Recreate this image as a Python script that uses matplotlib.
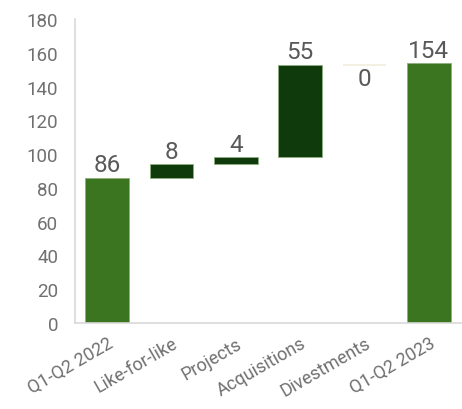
import matplotlib
matplotlib.use("Agg")
import matplotlib.pyplot as plt
import numpy as np

categories = ["Q1-Q2 2022", "Like-for-like", "Projects", "Acquisitions", "Divestments", "Q1-Q2 2023"]
values = [86, 8, 4, 55, 0, 154]
kinds = ["total", "delta", "delta", "delta", "delta", "total"]
y_ticks = [0, 20, 40, 60, 80, 100, 120, 140, 160, 180]

total_color = "#3B7520"
delta_color = "#0F3A0C"
zero_color = "#F1EDDD"
text_color = "#595959"
tick_color = "#707070"
axis_color = "#D9D9D9"

plt.rcParams["font.family"] = ["Roboto", "DejaVu Sans"]

fig = plt.figure(figsize=(4.62, 4.10), dpi=100)
ax = fig.add_axes([0.162, 0.21, 0.836, 0.741])

x = np.arange(len(categories))
width = 0.68
running = 0
for i, (v, k) in enumerate(zip(values, kinds)):
    if k == "total":
        bottom, height = 0, v
        running = v
        color = total_color
    else:
        bottom, height = running, v
        running += v
        color = delta_color
    if height == 0:
        ax.plot([x[i] - width / 2, x[i] + width / 2], [bottom, bottom],
                color=zero_color, lw=1.2, solid_capstyle="butt")
        ax.annotate(f"{v}", (x[i], bottom), xytext=(0, -2), textcoords="offset points",
                    ha="center", va="top", fontsize=17.5, color=text_color)
    else:
        ax.bar(x[i], height, bottom=bottom, width=width, color=color,
               edgecolor="#8FAF80", linewidth=0.6)
        ax.annotate(f"{v}", (x[i], bottom + height), xytext=(0, 1), textcoords="offset points",
                    ha="center", va="bottom", fontsize=17.5, color=text_color)

ax.set_xlim(-0.5, len(categories) - 0.5)
ax.set_ylim(0, 180)
ax.set_yticks(y_ticks)
ax.set_xticks(x)
ax.set_xticklabels(categories, rotation=30, ha="right", rotation_mode="anchor")
ax.tick_params(axis="y", length=0, colors=tick_color, labelsize=13.5, pad=12)
ax.tick_params(axis="x", length=0, colors=tick_color, labelsize=13, pad=8)
for s in ["top", "right"]:
    ax.spines[s].set_visible(False)
for s in ["left", "bottom"]:
    ax.spines[s].set_color(axis_color)
    ax.spines[s].set_linewidth(1.2)

fig.savefig("out.png", dpi=100)
